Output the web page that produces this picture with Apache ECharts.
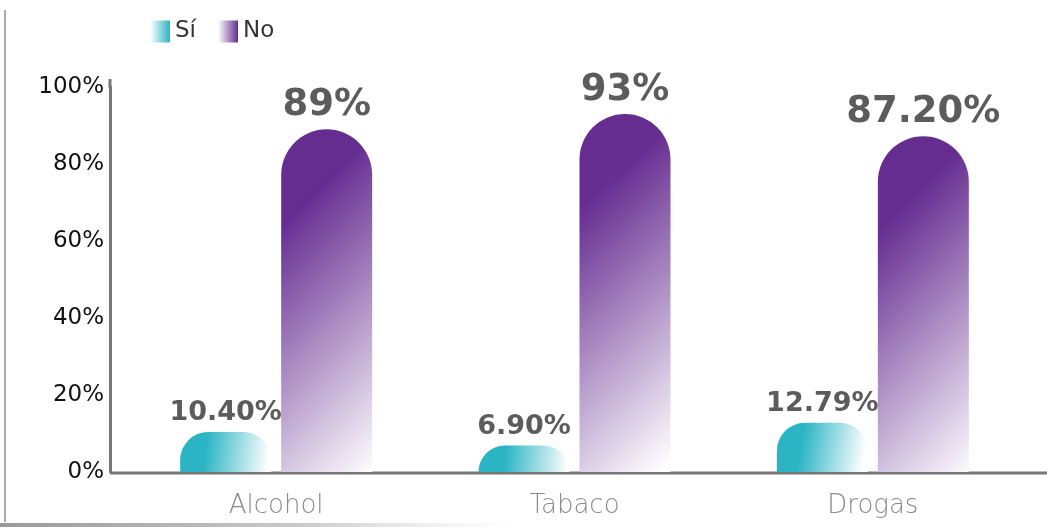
<!DOCTYPE html>
<html><head><meta charset="utf-8">
<script src="https://cdn.jsdelivr.net/npm/echarts@6/dist/echarts.min.js"></script>
<style>html,body{margin:0;padding:0;background:#fff}#c{width:1047px;height:529px}</style>
</head><body><div id="c"></div>
<script>
var categories = ['Alcohol', 'Tabaco', 'Drogas'];
var siValues = [10.40, 6.90, 12.79];
var noValues = [89, 93, 87.20];
var siLabels = ['10.40%', '6.90%', '12.79%'];
var noLabels = ['89%', '93%', '87.20%'];
var yTicks = [0, 20, 40, 60, 80, 100];

var FONT = '"DejaVu Sans", sans-serif';
var TEAL = '#2bb5c4', PURPLE = '#662d91';
var siGrad = new echarts.graphic.LinearGradient(0,0,1,0.3,[{offset:0,color:TEAL},{offset:0.3,color:TEAL},{offset:1,color:'#ffffff'}]);
var noGrad = new echarts.graphic.LinearGradient(0,0,2.4,0.63,[{offset:0,color:PURPLE},{offset:0.22,color:PURPLE},{offset:1,color:'#ffffff'}]);
function legGrad(c){return new echarts.graphic.LinearGradient(0,0,1,0,[{offset:0,color:'#ffffff'},{offset:1,color:c}]);}

var chart = echarts.init(document.getElementById('c'));
chart.setOption({
  animation:false,
  legend:{
    left:145, top:15, itemWidth:20, itemHeight:22, itemGap:22, icon:'rect',
    textStyle:{fontFamily:FONT, fontSize:23, color:'#333'},
    data:[{name:'Sí', itemStyle:{color:legGrad(TEAL)}},{name:'No', itemStyle:{color:legGrad(PURPLE)}}]
  },
  grid:{left:127, right:25, top:87, bottom:57, containLabel:false},
  xAxis:{
    type:'category', data:categories,
    axisLine:{show:false}, axisTick:{show:false},
    axisLabel:{fontFamily:FONT, fontSize:26, fontWeight:200, color:'#8a8a8a', margin:21}
  },
  yAxis:{
    type:'value', min:0, max:100, interval:20, offset:17,
    axisLine:{show:true, lineStyle:{color:'#777', width:3}},
    axisTick:{show:false}, splitLine:{show:false},
    axisLabel:{fontFamily:FONT, fontSize:23, color:'#111', margin:6,
      formatter:function(v){return yTicks.indexOf(v)>=0? v+'%':'';}}
  },
  series:[
    {name:'Sí', type:'bar', data:siValues, barWidth:91, barGap:'11%',
     itemStyle:{color:siGrad, borderRadius:[28,28,0,0]},
     label:{show:true, position:'top', distance:5, fontFamily:FONT, fontWeight:'bold', fontSize:27, color:'#5c5c5c',
       formatter:function(p){return siLabels[p.dataIndex];}}},
    {name:'No', type:'bar', data:noValues, barWidth:91,
     itemStyle:{color:noGrad, borderRadius:[46,46,0,0]},
     label:{show:true, position:'top', distance:5, fontFamily:FONT, fontWeight:'bold', fontSize:37, color:'#5c5c5c',
       formatter:function(p){return noLabels[p.dataIndex];}}}
  ],
  graphic:[
    {type:'line', silent:true, shape:{x1:110,y1:473,x2:1047,y2:473}, style:{stroke:'#777', lineWidth:3}},
    {type:'line', silent:true, shape:{x1:110,y1:79,x2:110,y2:88}, style:{stroke:'#777', lineWidth:3}},
    {type:'line', silent:true, shape:{x1:5,y1:10,x2:5,y2:522}, style:{stroke:'#aaa', lineWidth:2}},
    {type:'rect', silent:true, shape:{x:0,y:523,width:520,height:4},
     style:{fill:new echarts.graphic.LinearGradient(0,0,1,0,[{offset:0,color:'#999'},{offset:0.6,color:'#ccc'},{offset:1,color:'rgba(230,230,230,0)'}])}}
  ]
});
</script></body></html>
